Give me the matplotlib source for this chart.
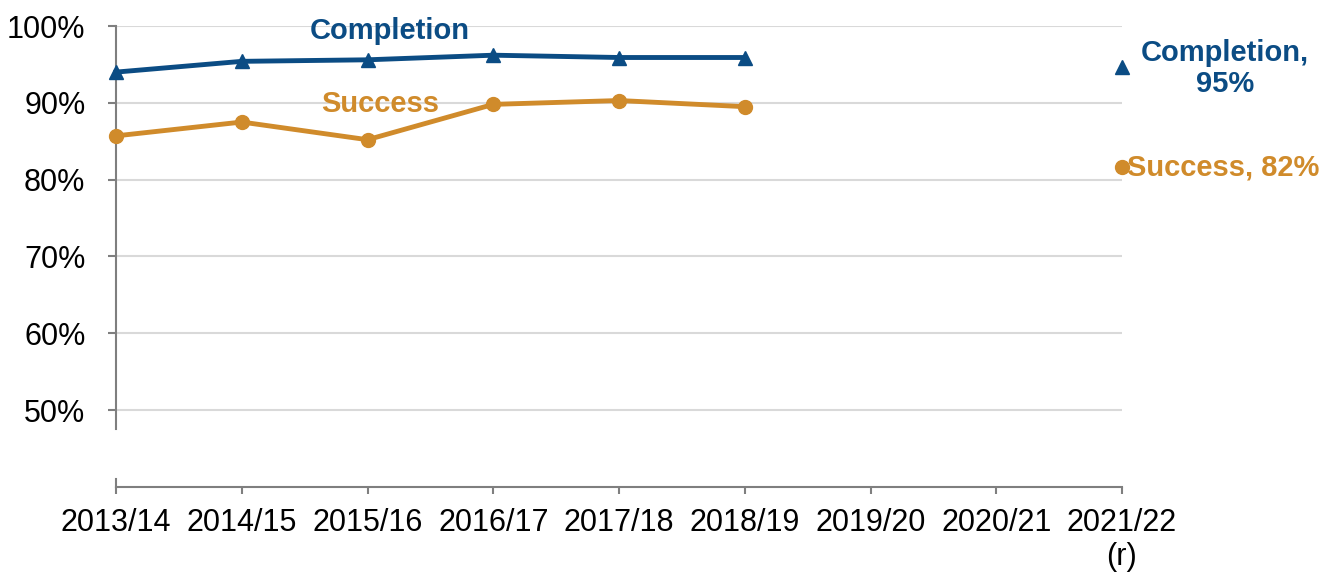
import matplotlib
matplotlib.use("Agg")
import matplotlib.pyplot as plt

years = ["2013/14", "2014/15", "2015/16", "2016/17", "2017/18", "2018/19", "2019/20", "2020/21", "2021/22\n(r)"]
completion = [94.0, 95.4, 95.6, 96.2, 95.9, 95.9]
success = [85.7, 87.5, 85.2, 89.8, 90.3, 89.5]
completion_latest = 94.7
success_latest = 81.6
yticks = [50, 60, 70, 80, 90, 100]
ytick_labels = ["50%", "60%", "70%", "80%", "90%", "100%"]

blue = "#0b4c84"
orange = "#d08b2b"
grey = "#7f7f7f"

plt.rcParams['font.family'] = ['Liberation Sans', 'DejaVu Sans']

fig = plt.figure(figsize=(13.3, 5.74), dpi=100)
ax = fig.add_axes([116/1330, 1-487/574, (1122-116)/1330, (487-26)/574])

x = list(range(len(years)))
last = len(years) - 1
ax.plot(x[:len(completion)], completion, color=blue, lw=3.5, marker="^", ms=10, zorder=3, clip_on=False)
ax.plot(x[:len(success)], success, color=orange, lw=3.5, marker="o", ms=10, zorder=3, clip_on=False)
ax.plot([x[last]], [completion_latest], color=blue, marker="^", ms=10, ls="none", zorder=3, clip_on=False)
ax.plot([x[last]], [success_latest], color=orange, marker="o", ms=10, ls="none", zorder=3, clip_on=False)

ax.set_xlim(0, last)
ax.set_ylim(40, 100)
ax.set_yticks(yticks)
ax.set_yticklabels(ytick_labels)
ax.set_xticks(x)
ax.set_xticklabels(years)

for y in yticks:
    ax.axhline(y, color="#d9d9d9", lw=1.5, zorder=1)

for s in ["top", "right"]:
    ax.spines[s].set_visible(False)
ax.spines["left"].set_bounds(47.5, 100)
ax.spines["left"].set_color(grey)
ax.spines["left"].set_linewidth(1.5)
ax.spines["bottom"].set_color(grey)
ax.spines["bottom"].set_linewidth(1.5)
ax.plot([0, 0], [40, 41.1], color=grey, lw=1.5, clip_on=False, zorder=2)

ax.tick_params(axis="y", length=6, width=1.5, color=grey, labelsize=22, pad=16)
ax.tick_params(axis="x", length=5, width=1.5, color=grey, labelsize=22, pad=10)

ax.text(2.18, 99.4, "Completion", color=blue, fontsize=21, fontweight="bold", ha="center", va="center")
ax.text(2.1, 89.8, "Success", color=orange, fontsize=21, fontweight="bold", ha="center", va="center")
ax.text(8.82, 94.5, "Completion,\n95%", color=blue, fontsize=21, fontweight="bold",
        ha="center", va="center", linespacing=1.15, clip_on=False)
ax.text(8.04, 81.6, "Success, 82%", color=orange, fontsize=21, fontweight="bold",
        ha="left", va="center", clip_on=False)

fig.savefig("out.png", dpi=100)
